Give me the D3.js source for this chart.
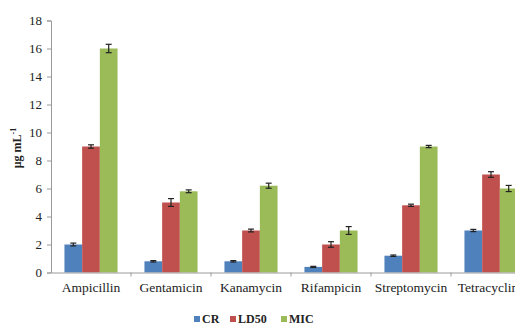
<!DOCTYPE html>
<html>
<head>
  <meta charset="UTF-8">
  <script src="https://cdnjs.cloudflare.com/ajax/libs/d3/7.8.5/d3.min.js"></script>
  <style>
    body { margin: 0; background: #fff; }
  </style>
</head>
<body>
<script>
  var categories = ["Ampicillin", "Gentamicin", "Kanamycin", "Rifampicin", "Streptomycin", "Tetracycline"];
  var seriesNames = ["CR", "LD50", "MIC"];
  var colors = ["#4f81bd", "#c0504d", "#9bbb59"];
  var crValues   = [2.0, 0.8, 0.8, 0.4, 1.2, 3.0];
  var ld50Values = [9.0, 5.0, 3.0, 2.0, 4.8, 7.0];
  var micValues  = [16.0, 5.8, 6.2, 3.0, 9.0, 6.0];
  var crErr   = [0.1, 0.05, 0.05, 0.04, 0.05, 0.08];
  var ld50Err = [0.12, 0.28, 0.1, 0.2, 0.08, 0.2];
  var micErr  = [0.3, 0.1, 0.18, 0.28, 0.08, 0.22];
  var yTicks = [0, 2, 4, 6, 8, 10, 12, 14, 16, 18];

  var values = [crValues, ld50Values, micValues];
  var errs = [crErr, ld50Err, micErr];
  var serif = "'Liberation Serif', 'Times New Roman', serif";

  var svg = d3.select("body").append("svg")
    .attr("width", 515).attr("height", 328);

  var x = d3.scaleBand().domain(categories).range([51, 531]);
  var inner = d3.scaleBand().domain(seriesNames).range([0, x.bandwidth()]).paddingOuter(0.76);
  var y = d3.scaleLinear().domain([0, 18]).range([272.5, 20.5]);

  // y axis
  var yAxis = svg.append("g").attr("transform", "translate(51,0)")
    .call(d3.axisLeft(y).tickValues(yTicks).tickSize(4).tickPadding(5));
  yAxis.selectAll("path, line").attr("stroke", "#9a9a9a");
  yAxis.selectAll("text").style("font-size", "13px").style("font-family", serif).attr("fill", "#222");

  // bars
  var rows = [];
  categories.forEach(function (c, i) {
    seriesNames.forEach(function (s, j) {
      rows.push({ cat: c, s: s, j: j, v: values[j][i], e: errs[j][i] });
    });
  });

  svg.append("g").selectAll("rect").data(rows).join("rect")
    .attr("x", function (d) { return x(d.cat) + inner(d.s); })
    .attr("width", inner.bandwidth())
    .attr("y", function (d) { return y(d.v); })
    .attr("height", function (d) { return y(0) - y(d.v); })
    .attr("fill", function (d) { return colors[d.j]; });

  // error bars
  var eb = svg.append("g").attr("stroke", "#222").attr("stroke-width", 1.2);
  rows.forEach(function (d) {
    var cx = x(d.cat) + inner(d.s) + inner.bandwidth() / 2;
    eb.append("line").attr("x1", cx).attr("x2", cx).attr("y1", y(d.v + d.e)).attr("y2", y(d.v - d.e));
    eb.append("line").attr("x1", cx - 3).attr("x2", cx + 3).attr("y1", y(d.v + d.e)).attr("y2", y(d.v + d.e));
    eb.append("line").attr("x1", cx - 3).attr("x2", cx + 3).attr("y1", y(d.v - d.e)).attr("y2", y(d.v - d.e));
  });

  // x axis
  var xAxis = svg.append("g").attr("transform", "translate(0," + y(0) + ")")
    .call(d3.axisBottom(x).tickSize(0).tickPadding(10));
  xAxis.select("path").attr("stroke", "#9a9a9a");
  xAxis.selectAll("text").style("font-size", "13.5px").style("font-family", serif).attr("fill", "#222");
  // category boundary ticks
  xAxis.selectAll("line.sep").data(categories.slice(1)).join("line")
    .attr("class", "sep")
    .attr("x1", function (d) { return x(d); }).attr("x2", function (d) { return x(d); })
    .attr("y1", 0).attr("y2", 4).attr("stroke", "#9a9a9a");

  // y label
  svg.append("text")
    .attr("transform", "translate(21,148) rotate(-90)")
    .attr("text-anchor", "middle")
    .style("font-family", serif)
    .style("font-size", "12px").style("font-weight", "bold").attr("fill", "#222")
    .html("μg mL<tspan dy='-5' font-size='8'>-1</tspan>");

  // legend
  var legend = svg.append("g").attr("transform", "translate(194,323)");
  var offsets = [0, 36, 87];
  seriesNames.forEach(function (s, j) {
    var g = legend.append("g").attr("transform", "translate(" + offsets[j] + ",0)");
    g.append("rect").attr("x", 0).attr("y", -7).attr("width", 6).attr("height", 6).attr("fill", colors[j]);
    g.append("text").attr("x", 8).attr("y", 0)
      .style("font-family", serif).attr("fill", "#222")
      .style("font-size", "12px").style("font-weight", "bold").text(s);
  });
</script>
</body>
</html>
